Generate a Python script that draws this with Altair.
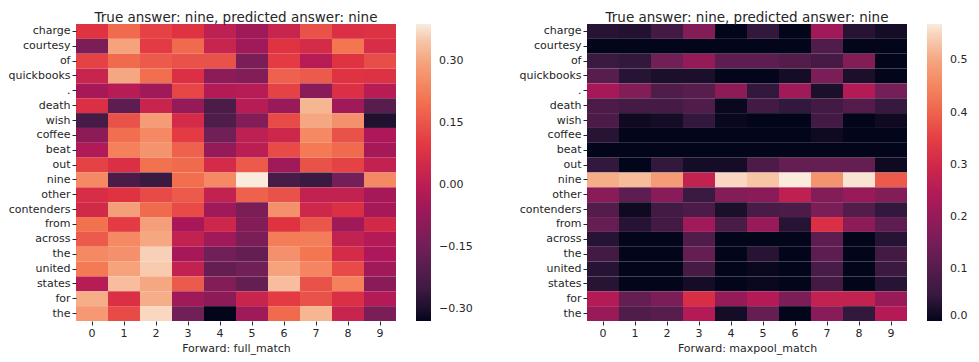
import json
import altair as alt
import pandas as pd

tokens = ["charge", "courtesy", "of", "quickbooks", ".", "death", "wish", "coffee",
          "beat", "out", "nine", "other", "contenders", "from", "across", "the",
          "united", "states", "for", "the"]
positions = list(range(10))

full_match = [
    [0.088, 0.188, 0.116, 0.088, 0.008, -0.056, 0.030, 0.145, 0.073, 0.080],
    [-0.128, 0.296, 0.102, 0.188, 0.030, -0.056, 0.088, 0.059, 0.210, 0.066],
    [0.116, 0.188, 0.160, 0.145, 0.145, -0.128, 0.102, -0.006, 0.088, 0.138],
    [0.030, 0.304, 0.196, 0.073, -0.092, -0.114, 0.174, 0.160, 0.088, 0.080],
    [-0.042, -0.006, -0.056, 0.124, -0.013, -0.006, 0.116, -0.100, 0.073, -0.006],
    [0.073, -0.186, 0.030, -0.078, -0.222, -0.006, -0.071, 0.332, -0.056, -0.200],
    [-0.236, 0.145, 0.282, 0.059, -0.215, -0.114, 0.131, 0.304, 0.260, -0.294],
    [-0.092, 0.196, 0.246, 0.102, -0.150, 0.008, 0.044, 0.246, 0.145, -0.028],
    [-0.020, 0.232, 0.268, 0.174, -0.078, 0.001, 0.131, 0.217, 0.188, -0.042],
    [0.116, 0.073, 0.203, 0.188, 0.059, 0.160, -0.056, 0.145, 0.116, 0.016],
    [0.246, -0.222, -0.258, 0.196, 0.246, 0.390, -0.229, -0.258, -0.143, 0.246],
    [0.066, 0.088, 0.131, 0.160, 0.016, 0.174, 0.145, 0.016, 0.016, -0.042],
    [0.052, 0.289, 0.188, 0.131, -0.056, -0.128, 0.260, 0.044, 0.073, -0.042],
    [0.203, 0.102, 0.289, -0.035, 0.044, -0.114, 0.088, 0.152, -0.056, 0.052],
    [0.160, 0.246, 0.304, 0.016, -0.056, -0.128, 0.224, 0.224, 0.016, -0.013],
    [0.246, 0.260, 0.361, -0.042, -0.150, -0.172, 0.260, 0.210, 0.059, -0.028],
    [0.217, 0.296, 0.354, 0.016, -0.172, -0.150, 0.296, 0.239, 0.131, -0.056],
    [-0.006, 0.340, 0.304, 0.160, -0.114, -0.172, 0.340, 0.145, 0.232, -0.100],
    [0.318, 0.073, 0.318, -0.056, -0.092, 0.030, 0.102, 0.145, 0.073, -0.013],
    [0.275, 0.131, 0.368, -0.150, -0.330, -0.056, 0.188, 0.332, 0.030, -0.128],
]

maxpool_match = [
    [0.034, 0.029, 0.068, 0.171, 0.000, 0.046, 0.000, 0.217, 0.034, 0.017],
    [0.000, 0.000, 0.000, 0.000, 0.000, 0.000, 0.000, 0.091, 0.000, 0.000],
    [0.057, 0.046, 0.143, 0.200, 0.114, 0.114, 0.097, 0.074, 0.171, 0.000],
    [0.103, 0.034, 0.023, 0.023, 0.000, 0.000, 0.017, 0.160, 0.023, 0.000],
    [0.228, 0.171, 0.091, 0.103, 0.188, 0.046, 0.217, 0.023, 0.251, 0.148],
    [0.086, 0.074, 0.074, 0.091, 0.006, 0.068, 0.046, 0.068, 0.097, 0.051],
    [0.086, 0.011, 0.017, 0.046, 0.006, 0.000, 0.000, 0.068, 0.000, 0.011],
    [0.034, 0.000, 0.000, 0.000, 0.000, 0.000, 0.000, 0.011, 0.000, 0.000],
    [0.000, 0.000, 0.000, 0.000, 0.000, 0.000, 0.000, 0.000, 0.000, 0.000],
    [0.046, 0.000, 0.046, 0.017, 0.017, 0.086, 0.125, 0.125, 0.125, 0.011],
    [0.513, 0.530, 0.485, 0.274, 0.553, 0.536, 0.570, 0.473, 0.564, 0.388],
    [0.182, 0.114, 0.182, 0.057, 0.171, 0.182, 0.268, 0.171, 0.205, 0.171],
    [0.097, 0.011, 0.068, 0.086, 0.023, 0.080, 0.086, 0.160, 0.097, 0.046],
    [0.125, 0.034, 0.068, 0.217, 0.080, 0.205, 0.034, 0.319, 0.188, 0.114],
    [0.034, 0.000, 0.000, 0.091, 0.000, 0.000, 0.000, 0.114, 0.000, 0.034],
    [0.068, 0.000, 0.000, 0.125, 0.000, 0.034, 0.000, 0.114, 0.000, 0.068],
    [0.034, 0.000, 0.000, 0.074, 0.000, 0.006, 0.000, 0.080, 0.000, 0.057],
    [0.034, 0.000, 0.000, 0.017, 0.000, 0.006, 0.000, 0.068, 0.000, 0.034],
    [0.251, 0.125, 0.160, 0.314, 0.200, 0.251, 0.160, 0.274, 0.274, 0.205],
    [0.205, 0.091, 0.103, 0.251, 0.017, 0.125, 0.000, 0.182, 0.046, 0.251],
]

title_text = "True answer: nine, predicted answer: nine"
left_xtitle = "Forward: full_match"
right_xtitle = "Forward: maxpool_match"
left_ticks = [-0.30, -0.15, 0.00, 0.15, 0.30]
right_ticks = [0.0, 0.1, 0.2, 0.3, 0.4, 0.5]
left_range = (-0.33, 0.39)
right_range = (0.0, 0.57)

# seaborn "rocket" colormap stops
rocket = ["#03051A", "#35193e", "#701f57", "#ad1759", "#e13342", "#f37651", "#f6b48f", "#FAEBDD"]
rocket_pos = [0, 1 / 12, 3 / 12, 5 / 12, 7 / 12, 9 / 12, 11 / 12, 1]

FONT = "DejaVu Sans"
TXT = "#262626"
PLOT_H = 297
label_expr = json.dumps(tokens) + "[datum.value]"


def to_frame(matrix):
    rows = []
    for i, row in enumerate(matrix):
        for j, v in enumerate(row):
            rows.append({"row": i, "col": positions[j], "value": v})
    return pd.DataFrame(rows)


def panel(matrix, xtitle, rng, ticks, fmt):
    lo, hi = rng
    dom = [lo + p * (hi - lo) for p in rocket_pos]
    scale = alt.Scale(domain=dom, range=rocket, interpolate="rgb", clamp=True)
    return alt.Chart(to_frame(matrix)).mark_rect().encode(
        x=alt.X("col:O", axis=alt.Axis(title=xtitle, labelAngle=0)),
        y=alt.Y("row:O", axis=alt.Axis(title=None, labelExpr=label_expr)),
        color=alt.Color(
            "value:Q",
            scale=scale,
            legend=alt.Legend(
                title=None, values=ticks, format=fmt,
                gradientLength=PLOT_H, gradientThickness=15, offset=20, padding=0,
                gradientStrokeWidth=0, labelFontSize=11, labelFont=FONT,
                labelColor=TXT, labelOffset=8,
            ),
        ),
    ).properties(
        width=320, height=PLOT_H,
        title=alt.Title(title_text, fontSize=13.5, fontWeight="normal", font=FONT,
                        color=TXT, offset=0),
    )


left = panel(full_match, left_xtitle, left_range, left_ticks, ".2f")
right = panel(maxpool_match, right_xtitle, right_range, right_ticks, ".1f")

chart = alt.hconcat(left, right, spacing=46).resolve_scale(
    color="independent"
).properties(
    padding={"left": 0, "top": 2, "right": 0, "bottom": 3}
).configure_view(stroke=None).configure_axis(
    domain=False, grid=False, labelFont=FONT, titleFont=FONT, labelFontSize=11,
    titleFontSize=11, labelColor=TXT, titleColor=TXT, tickColor=TXT, tickSize=4,
    labelPadding=2, titleFontWeight="normal", titlePadding=4,
)

chart.save("out.html", embed_options={"renderer": "svg", "actions": False})
